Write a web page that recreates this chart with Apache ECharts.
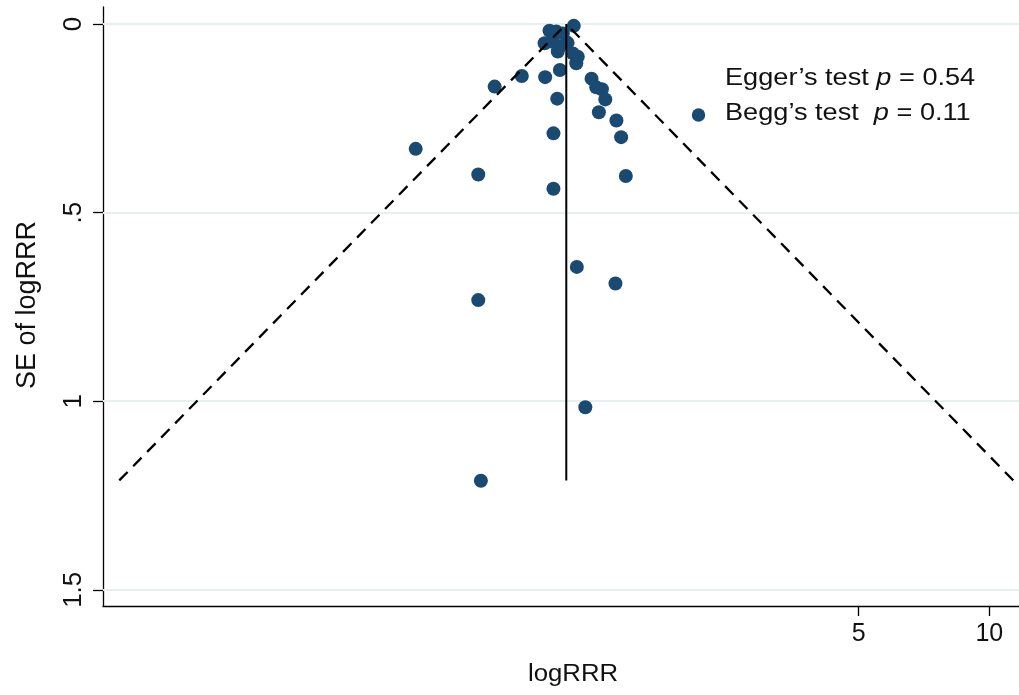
<!DOCTYPE html>
<html>
<head>
<meta charset="utf-8">
<script src="https://cdn.jsdelivr.net/npm/echarts@6/dist/echarts.min.js"></script>
<style>html,body{margin:0;padding:0;background:#fff}#c{width:1019px;height:695px}</style>
</head>
<body>
<div id="c"></div>
<script>
// Study estimates: logRRR (natural log) and its standard error
const logRRR = [0.098,-0.031,0.005,0.040,-0.057,-0.013,0.022,0.013,0.065,0.093,0.119,0.111,0.024,-0.322,-0.178,-0.054,0.010,-0.010,-0.741,-0.409,-0.010,0.192,0.217,0.247,0.265,0.231,0.324,0.349,0.374,0.114,0.319,-0.409,0.159,-0.395];
const seLogRRR = [0.005,0.018,0.020,0.025,0.051,0.047,0.060,0.073,0.050,0.078,0.087,0.104,0.122,0.166,0.138,0.141,0.198,0.290,0.331,0.399,0.437,0.145,0.168,0.173,0.200,0.234,0.256,0.300,0.403,0.644,0.688,0.732,1.016,1.211];
// pooled estimate and funnel depth
const pooled = 0.058;
const seMax = 1.21;
// axis ticks
const xTickRR = [5, 10];
const yTicks = [0, 0.5, 1, 1.5];
const yTickLabels = ['0', '.5', '1', '1.5'];

const pts = logRRR.map((v, i) => [v, seLogRRR[i]]);
const xTickVals = xTickRR.map(v => Math.log(v));
const leftFunnel = [[pooled, 0], [pooled - 1.96 * seMax, seMax]];
const rightFunnel = [[pooled, 0], [pooled + 1.96 * seMax, seMax]];
const vLine = [[pooled, 0], [pooled, seMax]];

const FONT = '"Liberation Sans", Arial, sans-serif';
const NAVY = '#1a4a72';
const dashStyle = {color: '#000', width: 2.3, type: [12, 8], dashOffset: 13};
const chart = echarts.init(document.getElementById('c'), null, {renderer: 'canvas'});
chart.setOption({
  animation: false,
  backgroundColor: '#fff',
  grid: {left: 103, right: 0, top: 7, bottom: 89, containLabel: false},
  xAxis: {
    type: 'value', min: -2.40, max: 2.46,
    axisLine: {show: true, onZero: false, lineStyle: {color: '#000', width: 1.3}},
    axisTick: {show: true, length: 10, lineStyle: {color: '#000', width: 1.3}, customValues: xTickVals},
    axisLabel: {show: true, customValues: xTickVals, color: '#111', fontSize: 25, fontFamily: FONT, margin: 16,
      formatter: v => { const i = xTickVals.findIndex(t => Math.abs(t - v) < 1e-6); return i >= 0 ? String(xTickRR[i]) : ''; }},
    splitLine: {show: false}
  },
  yAxis: {
    type: 'value', inverse: true, min: -0.045, max: 1.543,
    axisLine: {show: true, onZero: false, lineStyle: {color: '#000', width: 1.3}},
    axisTick: {show: true, length: 10, lineStyle: {color: '#000', width: 1.3}, customValues: yTicks},
    axisLabel: {show: true, customValues: yTicks, rotate: 90, color: '#111', fontSize: 26, fontFamily: FONT, margin: 16,
      formatter: v => { const i = yTicks.findIndex(t => Math.abs(t - v) < 1e-6); return i >= 0 ? yTickLabels[i] : ''; }},
    splitLine: {show: false}
  },
  series: [
    {
      type: 'scatter', data: pts, symbolSize: 14, z: 2,
      itemStyle: {color: NAVY, opacity: 1},
      markLine: {
        silent: true, symbol: 'none', label: {show: false}, z: 1,
        lineStyle: {color: '#e8eff1', width: 2, type: 'solid'},
        data: yTicks.map(t => ({yAxis: t}))
      }
    },
    {type: 'line', data: leftFunnel, symbol: 'none', z: 3, lineStyle: dashStyle},
    {type: 'line', data: rightFunnel, symbol: 'none', z: 3, lineStyle: dashStyle},
    {type: 'line', data: vLine, symbol: 'none', z: 3, lineStyle: {color: '#000', width: 2}}
  ],
  graphic: [
    {type: 'text', x: 28, y: 305, rotation: Math.PI / 2,
      style: {text: 'SE of logRRR', font: '27px ' + FONT, fill: '#111', textAlign: 'center', textVerticalAlign: 'middle'}},
    {type: 'text', x: 573, y: 675, scaleX: 1.12,
      style: {text: 'logRRR', font: '23px ' + FONT, fill: '#111', textAlign: 'center', textVerticalAlign: 'middle'}},
    {type: 'text', x: 725, y: 79, scaleX: 1.18,
      style: {text: '{a|Egger’s test }{i|p}{a| = 0.54}', textVerticalAlign: 'middle',
        rich: {a: {font: '23px ' + FONT, fill: '#111'}, i: {font: 'italic 23px ' + FONT, fill: '#111'}}}},
    {type: 'circle', shape: {cx: 698.5, cy: 115, r: 6.7}, style: {fill: NAVY}},
    {type: 'text', x: 725, y: 114, scaleX: 1.18,
      style: {text: '{a|Begg’s test  }{i|p}{a| = 0.11}', textVerticalAlign: 'middle',
        rich: {a: {font: '23px ' + FONT, fill: '#111'}, i: {font: 'italic 23px ' + FONT, fill: '#111'}}}}
  ]
});
</script>
</body>
</html>
